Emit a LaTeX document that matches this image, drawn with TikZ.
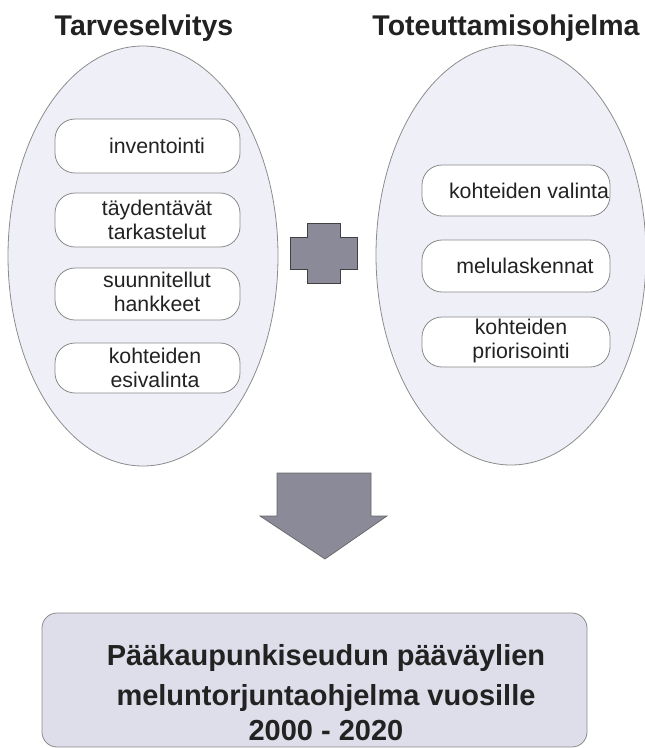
\documentclass[tikz,border=0pt]{standalone}
\usepackage{fontspec}
\setmainfont{Liberation Sans}
\usetikzlibrary{shapes.geometric}
\definecolor{ellfill}{HTML}{EFEFF8}
\definecolor{ellline}{HTML}{8C8C8C}
\definecolor{boxline}{HTML}{8A8A8A}
\definecolor{txt}{HTML}{222222}
\definecolor{plusfill}{HTML}{8A8A98}
\definecolor{bigfill}{HTML}{DEDEEA}
\tikzset{
  ell/.style={ellipse, draw=ellline, line width=0.8pt, fill=ellfill, inner sep=0pt, minimum width=270pt, minimum height=420pt},
  item/.style={rounded corners=20pt, draw=boxline, line width=0.8pt, fill=white, inner sep=0pt},
  itemtext/.style={inner sep=0pt, align=center, text=txt, font=\fontsize{21.3}{24}\selectfont},
  ttl/.style={text=txt, font=\bfseries\fontsize{28.5}{32}\selectfont, inner sep=0pt},
  shape2/.style={draw=black!75, line width=0.7pt, fill=plusfill},
  big/.style={rounded corners=15pt, draw=boxline, line width=0.8pt, fill=bigfill, inner sep=0pt},
  bigtext/.style={inner sep=0pt, align=center, text=txt, font=\bfseries\fontsize{29}{40}\selectfont}
}
\begin{document}
\begin{tikzpicture}[x=1pt,y=-1pt]
\useasboundingbox (0,0) rectangle (645,748);
% titles
\node[ttl] (t1) at (144,28) {Tarveselvitys};
\node[ttl] (t2) at (506,28) {Toteuttamisohjelma};
% ellipses
\node[ell] (e1) at (143,256) {};
\node[ell] (e2) at (511,255) {};
% left items
\node[item, minimum width=185pt, minimum height=54pt] (a1) at (147.5,146) {};
\node[itemtext] (a1t) at (157,146) {inventointi};
\node[item, minimum width=185pt, minimum height=54pt] (a2) at (147.5,220) {};
\node[itemtext] (a2t) at (157,220) {täydentävät\\tarkastelut};
\node[item, minimum width=185pt, minimum height=52pt] (a3) at (147.5,294) {};
\node[itemtext] (a3t) at (157,292) {suunnitellut\\hankkeet};
\node[item, minimum width=185pt, minimum height=50pt] (a4) at (147.5,368) {};
\node[itemtext] (a4t) at (155,368) {kohteiden\\esivalinta};
% right items
\node[item, minimum width=188pt, minimum height=51pt] (b1) at (516,190.5) {};
\node[itemtext] (b1t) at (529,191) {kohteiden valinta};
\node[item, minimum width=188pt, minimum height=52pt] (b2) at (516,266) {};
\node[itemtext] (b2t) at (525,266) {melulaskennat};
\node[item, minimum width=188pt, minimum height=50pt] (b3) at (516,342) {};
\node[itemtext] (b3t) at (521,341) {kohteiden\\priorisointi};
% plus
\draw[shape2] (307,223) -- (340,223) -- (340,237) -- (357,237) -- (357,269) -- (340,269) -- (340,283)
  -- (307,283) -- (307,269) -- (290,269) -- (290,237) -- (307,237) -- cycle;
% arrow
\draw[shape2, draw=black!60] (277,473) -- (371,473) -- (371,516) -- (387,516) -- (325,559) -- (260,516) -- (277,516) -- cycle;
% bottom box
\node[big, minimum width=545pt, minimum height=134pt] (c) at (314.5,680) {};
\node[bigtext] (ct) at (326,693) {Pääkaupunkiseudun pääväylien\\meluntorjuntaohjelma vuosille\\[-5pt]2000 - 2020};
\end{tikzpicture}
\end{document}
